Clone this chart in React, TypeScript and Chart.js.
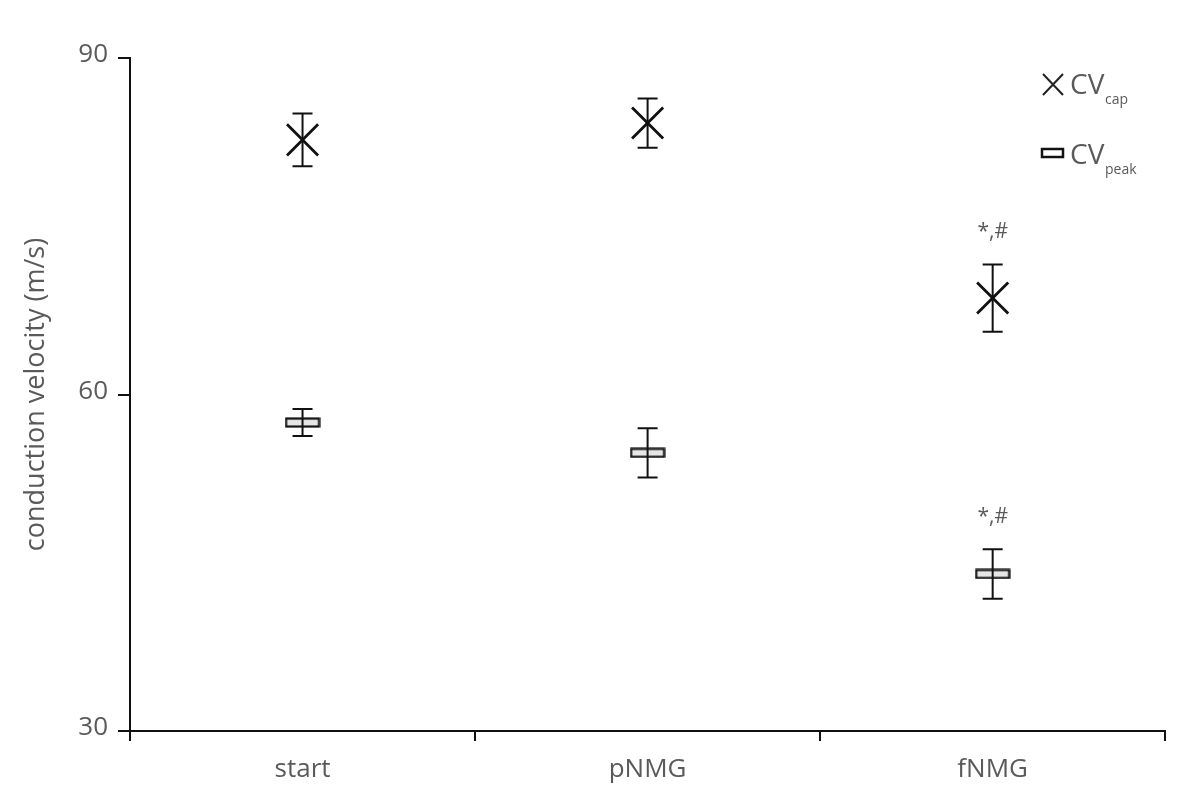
import { useEffect, useRef } from 'react';
import { Chart, registerables } from 'chart.js';

Chart.register(...registerables);

const groups = ['start', 'pNMG', 'fNMG'];
const capMean = [82.7, 84.2, 68.6];
const capErr = [2.35, 2.2, 3.0];
const peakMean = [57.5, 54.8, 44.0];
const peakErr = [1.2, 2.2, 2.2];
// significance marks per group (only fNMG is marked)
const capMarks = ['', '', '*,#'];
const peakMarks = ['', '', '*,#'];
const yTicks = [30, 60, 90];

const textColor = '#5a5a5a';
const fontFamily = '"Open Sans", "DejaVu Sans", sans-serif';

function makeRectMarker() {
  const c = document.createElement('canvas');
  c.width = 36;
  c.height = 11;
  const ctx = c.getContext('2d')!;
  ctx.fillStyle = '#e6e6e6';
  ctx.fillRect(1, 1, 34, 9);
  ctx.strokeStyle = '#111';
  ctx.lineWidth = 2.2;
  ctx.strokeRect(1.5, 1.5, 33, 8);
  return c;
}

const errorBars = {
  id: 'errorBars',
  afterDatasetsDraw(chart: any) {
    const { ctx, scales } = chart;
    const sets = [
      { mean: capMean, err: capErr, marks: capMarks },
      { mean: peakMean, err: peakErr, marks: peakMarks },
    ];
    ctx.save();
    ctx.strokeStyle = '#111';
    ctx.lineWidth = 2;
    sets.forEach(s => {
      s.mean.forEach((m, i) => {
        const x = scales.x.getPixelForValue(i);
        const yTop = scales.y.getPixelForValue(m + s.err[i]);
        const yBot = scales.y.getPixelForValue(m - s.err[i]);
        ctx.beginPath();
        ctx.moveTo(x, yTop);
        ctx.lineTo(x, yBot);
        ctx.moveTo(x - 10, yTop);
        ctx.lineTo(x + 10, yTop);
        ctx.moveTo(x - 10, yBot);
        ctx.lineTo(x + 10, yBot);
        ctx.stroke();
        if (s.marks[i]) {
          ctx.fillStyle = textColor;
          ctx.font = `21px ${fontFamily}`;
          ctx.textAlign = 'center';
          ctx.textBaseline = 'middle';
          ctx.fillText(s.marks[i], x, yTop - 32);
        }
      });
    });
    ctx.restore();
  },
};

const customLegend = {
  id: 'customLegend',
  afterDraw(chart: any) {
    const { ctx } = chart;
    ctx.save();
    ctx.strokeStyle = '#222';
    ctx.lineWidth = 2;
    // cross icon
    ctx.beginPath();
    ctx.moveTo(1043, 74);
    ctx.lineTo(1063, 95);
    ctx.moveTo(1063, 74);
    ctx.lineTo(1043, 95);
    ctx.stroke();
    // rect icon
    ctx.fillStyle = '#fff';
    ctx.fillRect(1042, 149, 21, 8);
    ctx.strokeStyle = '#111';
    ctx.lineWidth = 2.5;
    ctx.strokeRect(1042, 149, 21, 8);

    ctx.fillStyle = textColor;
    ctx.textAlign = 'left';
    ctx.textBaseline = 'alphabetic';
    ctx.font = `28px ${fontFamily}`;
    ctx.fillText('CV', 1070, 94);
    ctx.fillText('CV', 1070, 164);
    ctx.font = `14px ${fontFamily}`;
    ctx.fillText('cap', 1105, 104);
    ctx.fillText('peak', 1105, 174);
    ctx.restore();
  },
};

export default function App() {
  const canvasRef = useRef<HTMLCanvasElement>(null);
  const chartRef = useRef<Chart | null>(null);

  useEffect(() => {
    if (!canvasRef.current) return;
    document.body.style.margin = '0';

    chartRef.current = new Chart(canvasRef.current, {
      type: 'line',
      data: {
        labels: groups,
        datasets: [
          {
            label: 'CVcap',
            data: capMean,
            showLine: false,
            pointStyle: 'crossRot',
            pointRadius: 22,
            pointBorderWidth: 2.8,
            borderColor: '#111',
            backgroundColor: '#111',
          },
          {
            label: 'CVpeak',
            data: peakMean,
            showLine: false,
            pointStyle: makeRectMarker() as any,
            pointRadius: 18,
            borderColor: '#111',
            backgroundColor: '#e6e6e6',
          },
        ],
      },
      options: {
        responsive: true,
        maintainAspectRatio: false,
        animation: false,
        layout: { padding: { top: 58, right: 22, left: 0, bottom: 0 } },
        plugins: {
          legend: { display: false },
          tooltip: { enabled: false },
        },
        scales: {
          x: {
            type: 'category',
            offset: true,
            grid: {
              offset: true,
              drawOnChartArea: false,
              tickLength: 10,
              color: '#111',
              lineWidth: 2,
            },
            border: { color: '#111', width: 2 },
            ticks: {
              color: textColor,
              font: { family: fontFamily, size: 26 },
              padding: 13,
            },
            afterFit: (scale: any) => {
              scale.height = 69;
            },
          },
          y: {
            min: 30,
            max: 90,
            afterBuildTicks: (scale: any) => {
              scale.ticks = yTicks.map(v => ({ value: v }));
            },
            grid: {
              drawOnChartArea: false,
              tickLength: 12,
              color: '#111',
              lineWidth: 2,
            },
            border: { color: '#111', width: 2 },
            ticks: {
              color: textColor,
              font: { family: fontFamily, size: 26 },
              padding: 10,
              labelOffset: -3,
            },
            title: {
              display: true,
              text: 'conduction velocity (m/s)',
              color: textColor,
              font: { family: fontFamily, size: 27 },
              padding: { top: 20, bottom: 0 },
            },
            afterFit: (scale: any) => {
              scale.width = 130;
            },
          },
        },
      },
      plugins: [errorBars, customLegend],
    });

    return () => {
      chartRef.current?.destroy();
    };
  }, []);

  return (
    <div style={{ position: 'absolute', left: 0, top: 0, width: 1190, height: 800, background: '#fff' }}>
      <canvas ref={canvasRef} />
    </div>
  );
}
